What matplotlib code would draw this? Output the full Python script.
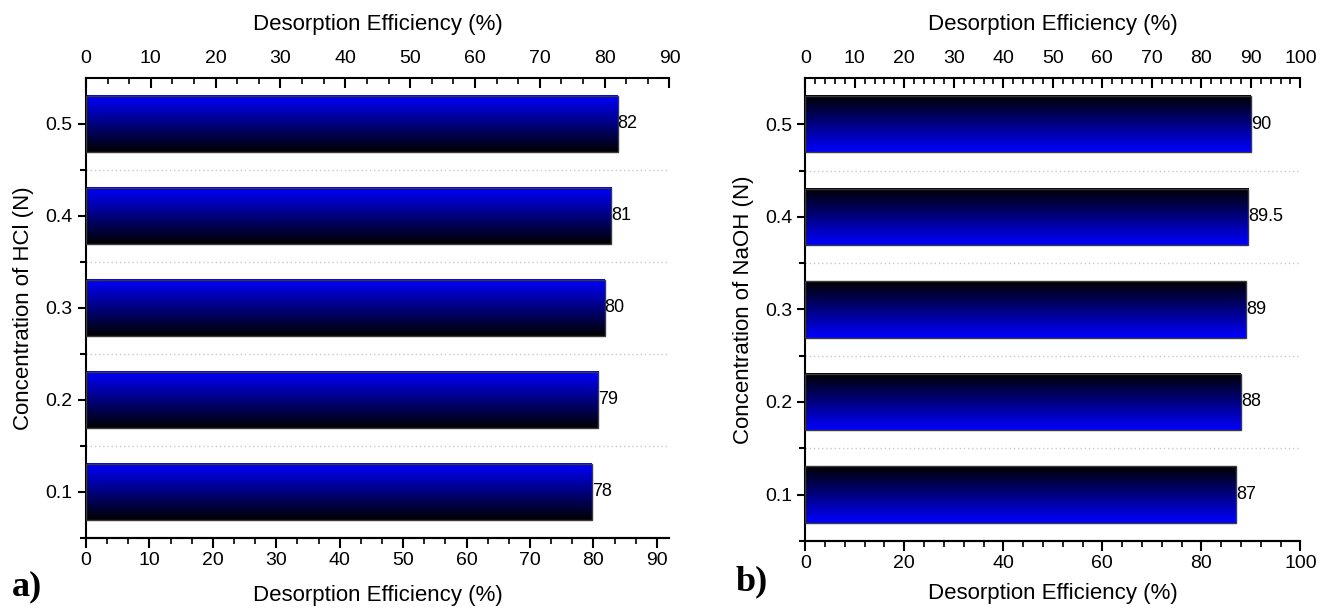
import matplotlib
matplotlib.use('Agg')
import matplotlib.pyplot as plt
import numpy as np
from matplotlib.colors import LinearSegmentedColormap
from matplotlib.ticker import MultipleLocator, FixedLocator

plt.rcParams['font.family'] = ['Liberation Sans', 'DejaVu Sans']

concentrations = [0.1, 0.2, 0.3, 0.4, 0.5]
conc_labels = ['0.1', '0.2', '0.3', '0.4', '0.5']
hcl_eff = [78, 79, 80, 81, 82]
naoh_eff = [87, 88, 89, 89.5, 90]
hcl_txt = ['78', '79', '80', '81', '82']
naoh_txt = ['87', '88', '89', '89.5', '90']

# colour at bar bottom -> colour at bar top
black_to_blue = LinearSegmentedColormap.from_list('kb', ['#000000', '#0000ff'])
blue_to_black = LinearSegmentedColormap.from_list('bk', ['#0000ff', '#000000'])


def gradient_bars(ax, values, texts, cmap):
    bars = ax.barh(concentrations, values, height=0.061, facecolor='none',
                   edgecolor='#3a3a3a', linewidth=1.0, zorder=3)
    grad = np.linspace(0, 1, 256).reshape(-1, 1)
    for b, t in zip(bars, texts):
        x0, y0, w, h = b.get_x(), b.get_y(), b.get_width(), b.get_height()
        ax.imshow(grad, extent=[x0, x0 + w, y0, y0 + h], origin='lower',
                  aspect='auto', cmap=cmap, zorder=2)
        ax.text(x0 + w, y0 + h / 2, t, ha='left', va='center', fontsize=13)


def style_axes(ax, ylabel):
    ax.set_ylim(0.05, 0.55)
    ax.set_yticks(concentrations)
    ax.set_yticklabels(conc_labels)
    ax.yaxis.set_minor_locator(FixedLocator([0.05, 0.15, 0.25, 0.35, 0.45]))
    ax.grid(axis='y', which='minor', linestyle=(0, (1, 2)), color='#c8c8c8', linewidth=1)
    ax.set_ylabel(ylabel, fontsize=16, labelpad=8)
    ax.spines['right'].set_visible(False)
    ax.spines['left'].set_linewidth(1.5)
    ax.spines['top'].set_linewidth(1.5)
    ax.spines['bottom'].set_linewidth(1.5)
    ax.xaxis.tick_top()
    ax.xaxis.set_label_position('top')
    ax.set_xlabel('Desorption Efficiency (%)', fontsize=16, labelpad=14)
    ax.tick_params(axis='x', which='major', direction='in', length=7, width=1.5,
                   labelsize=14, pad=8)
    ax.tick_params(axis='x', which='minor', direction='in', length=4, width=1.2)
    ax.tick_params(axis='y', which='major', direction='out', length=6, width=1.5,
                   labelsize=14)
    ax.tick_params(axis='y', which='minor', direction='out', length=4, width=1.5)


def style_bottom(sec, pad):
    sec.set_xlabel('Desorption Efficiency (%)', fontsize=16, labelpad=pad)
    sec.tick_params(which='major', direction='out', length=7, width=1.5, labelsize=14)
    sec.tick_params(which='minor', direction='out', length=4, width=1.2)
    sec.spines['bottom'].set_linewidth(1.5)


fig = plt.figure(figsize=(13.31, 6.09), dpi=100)

# a) HCl
ax1 = fig.add_axes([0.0646, 0.117, 0.4384, 0.755])
gradient_bars(ax1, hcl_eff, hcl_txt, black_to_blue)
ax1.set_xlim(0, 90)
ax1.xaxis.set_major_locator(MultipleLocator(10))
ax1.xaxis.set_minor_locator(MultipleLocator(10 / 3))
style_axes(ax1, 'Concentration of HCl (N)')
sec1 = ax1.secondary_xaxis('bottom', functions=(lambda x: x * 92 / 90, lambda x: x * 90 / 92))
sec1.xaxis.set_major_locator(MultipleLocator(10))
sec1.xaxis.set_minor_locator(MultipleLocator(10 / 3))
style_bottom(sec1, 11)

# b) NaOH
ax2 = fig.add_axes([0.605, 0.112, 0.372, 0.760])
gradient_bars(ax2, naoh_eff, naoh_txt, blue_to_black)
ax2.set_xlim(0, 100)
ax2.xaxis.set_major_locator(MultipleLocator(10))
ax2.xaxis.set_minor_locator(MultipleLocator(2))
style_axes(ax2, 'Concentration of NaOH (N)')
sec2 = ax2.secondary_xaxis('bottom')
sec2.xaxis.set_major_locator(MultipleLocator(20))
sec2.xaxis.set_minor_locator(MultipleLocator(4))
style_bottom(sec2, 8)

fig.text(0.009, 0.022, 'a)', fontsize=26, fontweight='bold', family='Liberation Serif')
fig.text(0.553, 0.030, 'b)', fontsize=26, fontweight='bold', family='Liberation Serif')

fig.savefig('out.png', dpi=100)
